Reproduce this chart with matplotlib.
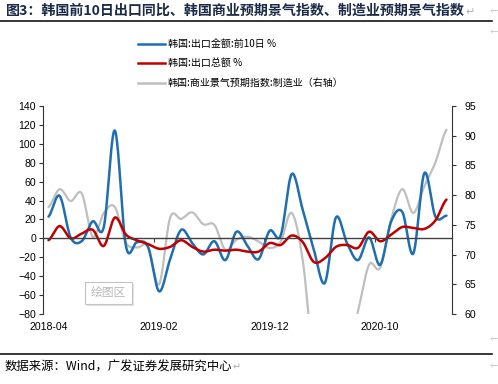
import numpy as np
import matplotlib
matplotlib.use('Agg')
import matplotlib.pyplot as plt
from matplotlib.lines import Line2D
from matplotlib.patches import Rectangle
from matplotlib.transforms import blended_transform_factory

plt.rcParams['font.family'] = ['Noto Sans CJK SC', 'DejaVu Sans']

# monthly data, 2018-04 .. 2021-04
months = ['2018-04', '2019-02', '2019-12', '2020-10']
month_idx = [0, 10, 20, 30]

export_10d = [23, 45, 1, -3, 18, 12, 114, -8, -4, -9, -56, -22, 9, -5, -17, -3,
              -23, 7, -8, -22, 8, 3, 68, 30, -12, -47, 22, -5, -23, 1, -28, 18,
              28, -16, 69, 23, 24]
export_total = [-2, 13, 0, 5, 9, -8, 22, 4, -2, -6, -11, -9, -2, -9, -14, -12,
                -13, -12, -14, -14, -5, -7, 3, -4, -25, -21, -9, -7, -10, 7, -3, 4,
                12, 11, 10, 19, 41]
bsi_mfg = [78, 81, 79, 80.3, 73, 77, 78, 72, 71.2, 71.3, 65, 76.2, 76, 77.1, 75.1, 75,
           70.8, 72.5, 73, 72.2, 71.1, 72.2, 77, 69, 52, 49, 51, 53, 60.5, 68.3, 67.8,
           76, 81, 77, 81.5, 85.5, 91]

labels = ['韩国:出口金额:前10日 %', '韩国:出口总额 %', '韩国:商业景气预期指数:制造业（右轴）']
colors = ['#1f6fb0', '#c00000', '#bfbfbf']


def smooth(vals, n=24):
    # Catmull-Rom curve through the points, like Excel's smoothed lines
    v = np.asarray(vals, float)
    p = np.concatenate([[v[0]], v, [v[-1]]])
    xs, ys = [], []
    t = np.linspace(0, 1, n, endpoint=False)
    for i in range(len(v) - 1):
        p0, p1, p2, p3 = p[i], p[i + 1], p[i + 2], p[i + 3]
        m1, m2 = (p2 - p0) / 2, (p3 - p1) / 2
        h00 = 2 * t**3 - 3 * t**2 + 1
        h10 = t**3 - 2 * t**2 + t
        h01 = -2 * t**3 + 3 * t**2
        h11 = t**3 - t**2
        xs.append(i + t)
        ys.append(h00 * p1 + h10 * m1 + h01 * p2 + h11 * m2)
    xs.append([len(v) - 1])
    ys.append([v[-1]])
    return np.concatenate(xs), np.concatenate(ys)


fig = plt.figure(figsize=(4.98, 3.84), dpi=100)
ax = fig.add_axes([43 / 498, 1 - 314 / 384, 409 / 498, 208 / 384])
ax2 = ax.twinx()
ax.set_zorder(ax2.get_zorder() + 1)
ax.patch.set_visible(False)

x, y = smooth(bsi_mfg)
ax2.plot(x, y, color=colors[2], lw=1.6, solid_capstyle='round')
x, y = smooth(export_10d)
ax.plot(x, y, color=colors[0], lw=1.8, solid_capstyle='round')
x, y = smooth(export_total)
ax.plot(x, y, color=colors[1], lw=1.8, solid_capstyle='round')

ax.set_xlim(-0.5, 36.5)
ax.set_ylim(-80, 140)
ax.set_yticks(range(-80, 141, 20))
ax2.set_ylim(60, 95)
ax2.set_yticks(range(60, 96, 5))

for a in (ax, ax2):
    a.spines['top'].set_visible(False)
ax.spines['right'].set_visible(False)
ax2.spines['left'].set_visible(False)
ax2.spines['bottom'].set_visible(False)
ax.spines['bottom'].set_position(('data', 0))
ax.spines['bottom'].set_color('#404040')
ax.spines['bottom'].set_linewidth(1.0)
ax.spines['left'].set_color('#333333')
ax2.spines['right'].set_color('#333333')
ax.spines['left'].set_linewidth(0.8)
ax2.spines['right'].set_linewidth(0.8)

ax.set_xticks([9.5, 19.5, 29.5])
ax.set_xticklabels([])
ax.tick_params(axis='x', length=3, color='#404040', direction='out')
ax.tick_params(axis='y', length=3, width=0.8, color='#333333', pad=2, labelsize=7.6)
ax2.tick_params(axis='y', length=3, width=0.8, color='#333333', pad=6, labelsize=7.6)
for lab in ax.get_yticklabels() + ax2.get_yticklabels():
    lab.set_fontfamily('Liberation Sans')

trans = blended_transform_factory(ax.transData, ax.transAxes)
for i, m in zip(month_idx, months):
    ax.text(i, -0.062, m, transform=trans, ha='center', va='center',
            fontsize=7.6, family='Liberation Sans')

# legend
for k, (lab, c) in enumerate(zip(labels, colors)):
    yy = 1 - (44 + 19.3 * k) / 384
    fig.add_artist(Line2D([138 / 498, 165 / 498], [yy, yy], color=c, lw=1.8))
    fig.text(168 / 498, yy, lab, fontsize=7.2, va='center', ha='left')

# "绘图区" tag with a soft shadow
fig.add_artist(Rectangle((87 / 498, 1 - 305.5 / 384), 47 / 498, 22 / 384,
                         transform=fig.transFigure, fc='#e2e2e2', ec='none', zorder=5))
fig.add_artist(Rectangle((85 / 498, 1 - 303.5 / 384), 47 / 498, 22 / 384,
                         transform=fig.transFigure, fc='white', ec='#c4c4c4', lw=0.8, zorder=6))
fig.text(108.5 / 498, 1 - 292.5 / 384, '绘图区', fontsize=8.5, color='#b8b8b8',
         ha='center', va='center', zorder=7)

# title and source
fig.text(6 / 498, 1 - 11 / 384, '图3：韩国前10日出口同比、韩国商业预期景气指数、制造业预期景气指数',
         fontsize=10.1, fontweight='bold', color='#1b2b48', ha='left', va='center')
fig.text(465 / 498, 1 - 12 / 384, '↵', fontsize=8, color='#b0b0b0', ha='left', va='center')
fig.add_artist(Line2D([0, 492 / 498], [1 - 21 / 384, 1 - 21 / 384], color='black', lw=1.1))
fig.add_artist(Line2D([0, 492 / 498], [1 - 354 / 384, 1 - 354 / 384], color='black', lw=1.1))
fig.text(5 / 498, 1 - 367 / 384, '数据来源：Wind，广发证券发展研究中心', fontsize=8.9,
         ha='left', va='center')
fig.text(233 / 498, 1 - 367 / 384, '↵', fontsize=7, color='#b0b0b0', ha='left', va='center')
for yy in (12, 33, 340, 367):
    fig.text(494 / 498, 1 - yy / 384, '←', fontsize=6, color='#c0c0c0', ha='center', va='center')

fig.savefig('out.png', dpi=100)
